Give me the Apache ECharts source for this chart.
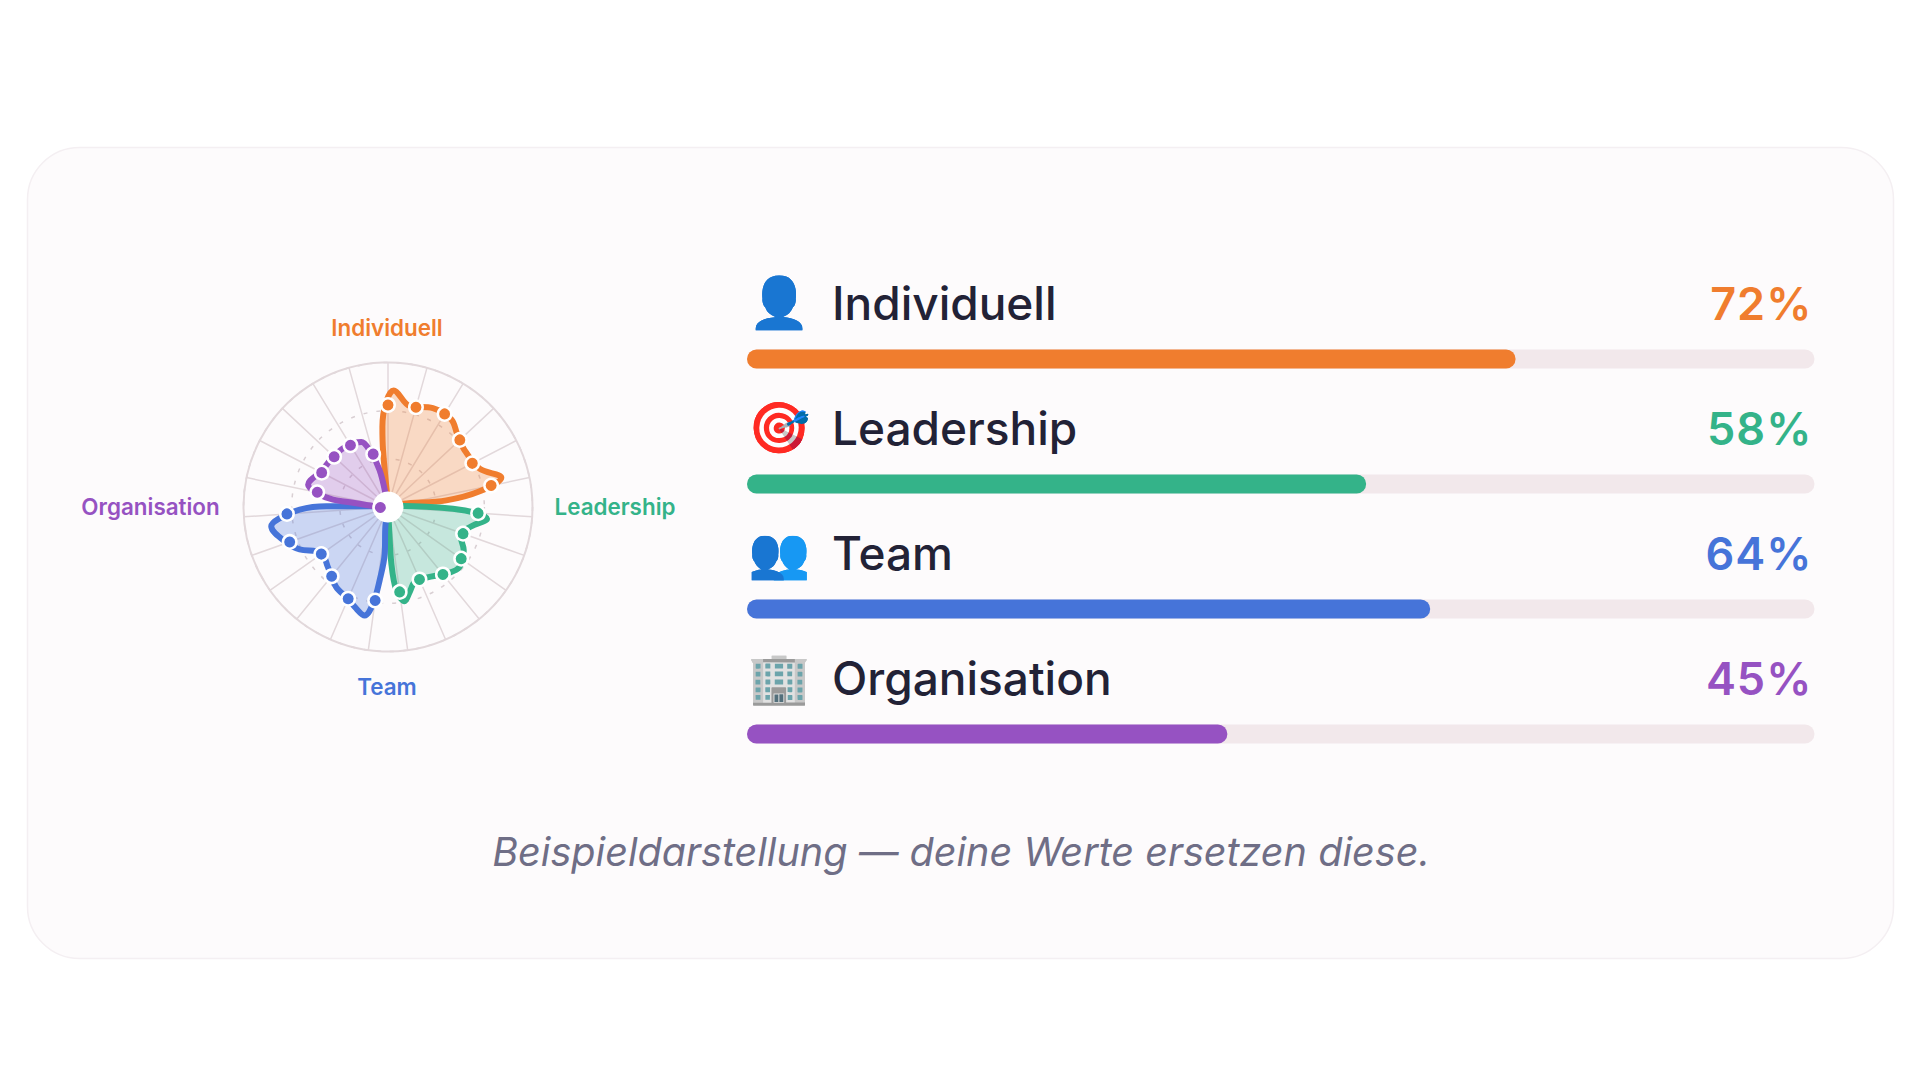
<!DOCTYPE html>
<html><head><meta charset="utf-8">
<style>html,body{margin:0;padding:0;background:#fff}#c{width:1920px;height:1080px}
#c svg text[style*="45px"]{letter-spacing:1px}</style>
<script src="https://cdn.jsdelivr.net/npm/echarts@6/dist/echarts.min.js"></script>
</head><body><div id="c"></div>
<script>
const categories = ['Individuell','Leadership','Team','Organisation'];
const icons = ['👤','🎯','👥','🏢'];
const percents = [72,58,64,45];
const colors = ['#F07D2E','#34B389','#4674D9','#9652C2'];
const spokeCount = 23;

const orangeR = [4,39.4,55.6,72.7,80.7,71.5,75.2,74.7,69.7,66,68.7,81,64.4,40.6,10.6,3];
const orangeA = [358,355,356,359,362.8,372.1,384.4,396,403.3,413.5,427.3,435.5,440.3,443.5,437.5,440];
const greenR = [3,10.4,45,61.4,69,59.3,53.7,60.4,64.6,62.3,55.6,55.1,60.7,66.2,57.9,39.2,13.8,3];
const greenA = [86,86,91.5,93.9,96.7,103,111.4,119.8,130,136.8,151.5,160.4,165.7,170,174.3,176.6,177,177];
const blueR = [3,13.8,32.3,51,67.6,76.8,72.9,69.2,66,58.8,56.1,67.8,73.8,81.9,75.9,61.1,42.7,12.7,3];
const blueA = [187,187.6,184,186.5,188.8,192.1,198.4,203.6,212.9,225,235.4,244.4,249.9,260.6,263.9,268.3,270.6,272,272];
const purpleR = [3,10.4,24.5,38.3,49.4,57.4,52.4,51.4,51,48.7,41.3,26.1,6.9,3];
const purpleA = [272,273.8,277,277.6,280.8,285.6,298.4,314,327.2,337.7,342,347.2,350.5,352];

const orangeDots = [[0,70.6],[1,71.7],[2,75.4],[3,68],[4,65.7],[5,72.9]];
const greenDots = [[6,62.5],[7,55.1],[8,62],[9,60.2],[10,54.7],[11,59.3]];
const blueDots = [[12,65.3],[13,69.2],[14,61.8],[15,56.5],[16,72.2],[17,70.1]];
const purpleDots = [[17,5.3],[18,50],[19,51.7],[20,51],[21,50],[22,38]];

const caption = 'Beispieldarstellung — deine Werte ersetzen diese.';
const INTER = 'Inter, "Noto Sans", sans-serif';
const step = 360/spokeCount;

function curve(rs, as, color){
  return {type:'line',coordinateSystem:'polar',smooth:0.35,symbol:'none',z:3,silent:true,animation:false,clip:false,
    data:rs.map((r,i)=>[r,as[i]]),
    lineStyle:{color,width:6,cap:'round',join:'round'},
    areaStyle:{color,opacity:0.27}};
}
function dots(ds,color){
  return {type:'scatter',coordinateSystem:'polar',z:6,silent:true,animation:false,symbolSize:13.5,
    data:ds.map(d=>[d[1],d[0]*step]),
    itemStyle:{color,borderColor:'#fff',borderWidth:2.5,opacity:1}};
}
const lineSeries=[curve(orangeR,orangeA,colors[0]),curve(greenR,greenA,colors[1]),curve(blueR,blueA,colors[2]),curve(purpleR,purpleA,colors[3])];
const dotSeries=[dots(orangeDots,colors[0]),dots(greenDots,colors[1]),dots(blueDots,colors[2]),dots(purpleDots,colors[3])];
const hole={type:'scatter',coordinateSystem:'polar',z:5,silent:true,animation:false,symbolSize:31,data:[[0,0]],itemStyle:{color:'#fff',opacity:1}};

const chart=echarts.init(document.getElementById('c'),null,{renderer:'svg'});
chart.setOption({
  animation:false,
  backgroundColor:'#ffffff',
  polar:{center:[388,507],radius:[0,144.5]},
  angleAxis:{type:'value',min:0,max:360,interval:step,startAngle:90,clockwise:true,
    axisLine:{show:true,lineStyle:{color:'#E2D8DB',width:2}},axisTick:{show:false},axisLabel:{show:false},
    splitLine:{show:true,lineStyle:{color:'#E2D8DB',width:1.5}}},
  radiusAxis:{type:'value',min:0,max:100,interval:100/3,axisLine:{show:false},axisTick:{show:false},axisLabel:{show:false},
    splitLine:{show:true,lineStyle:{color:'#D9CFD3',width:1.5,type:[4,9]}}},
  grid:{left:747,width:1067.5,top:296.5,height:500},
  xAxis:{type:'value',min:0,max:100,show:false},
  yAxis:{type:'category',inverse:true,show:false,data:categories},
  series:[
    ...lineSeries,hole,...dotSeries,
    {type:'bar',barWidth:19,barGap:'-100%',silent:true,animation:false,z:2,
     data:percents.map((p,i)=>({value:100,label:{color:colors[i]}})),
     itemStyle:{color:'#F2E8EB',borderRadius:10},
     label:{show:true,position:['99.8%',-46],align:'right',verticalAlign:'middle',fontFamily:INTER,fontSize:45,fontWeight:600,
       formatter:p=>percents[p.dataIndex]+'%'}},
    {type:'bar',barWidth:19,barGap:'-100%',silent:true,animation:false,z:3,
     data:percents.map((p,i)=>({value:p,itemStyle:{color:colors[i]}})),
     itemStyle:{borderRadius:10},
     label:{show:true,position:[0,-47],align:'left',verticalAlign:'middle',
       formatter:p=>'{e|'+icons[p.dataIndex]+'}{n|'+categories[p.dataIndex]+'}',
       rich:{e:{width:63,padding:[0,22,0,0],fontSize:50,align:'center'},n:{fontFamily:INTER,fontSize:46,fontWeight:500,color:'#222236'}}}}
  ],
  graphic:[
    {type:'rect',z:-10,silent:true,shape:{x:27.5,y:147.5,width:1866,height:811,r:52},style:{fill:'#FDFBFC',stroke:'#F4EFF2',lineWidth:1.5}},
    {type:'text',silent:true,x:387,y:327,style:{text:categories[0],fill:colors[0],font:'600 22.4px '+INTER,align:'center',verticalAlign:'middle'}},
    {type:'text',silent:true,x:615,y:506,style:{text:categories[1],fill:colors[1],font:'600 22.4px '+INTER,align:'center',verticalAlign:'middle'}},
    {type:'text',silent:true,x:387,y:686,style:{text:categories[2],fill:colors[2],font:'600 22.4px '+INTER,align:'center',verticalAlign:'middle'}},
    {type:'text',silent:true,x:150.5,y:506,style:{text:categories[3],fill:colors[3],font:'600 22.4px '+INTER,align:'center',verticalAlign:'middle'}},
    {type:'text',silent:true,x:961,y:852,style:{text:caption,fill:'#6F6E86',font:'italic 400 39.6px '+INTER,align:'center',verticalAlign:'middle'}}
  ]
});
</script></body></html>
